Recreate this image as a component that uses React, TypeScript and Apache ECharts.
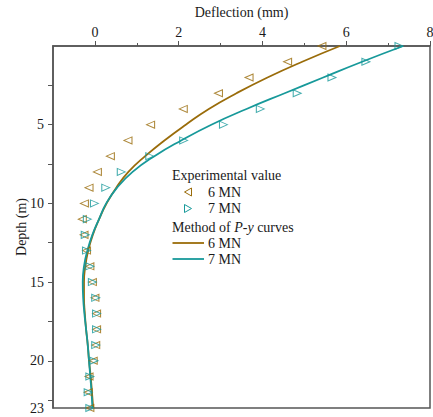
import React, { useEffect, useRef } from "react";
import * as echarts from "echarts";

const depths = [0, 1, 2, 3, 4, 5, 6, 7, 8, 9, 10, 11, 12, 13, 14, 15, 16, 17, 18, 19, 20, 21, 22, 23];
const exp6MN = [5.42, 4.6, 3.68, 2.95, 2.11, 1.33, 0.79, 0.37, 0.06, -0.14, -0.25, -0.3, -0.26, -0.2, -0.12, -0.06, 0, 0.04, 0.04, 0.02, -0.04, -0.14, -0.16, -0.12];
const exp7MN = [7.26, 6.47, 5.66, 4.83, 3.95, 3.07, 2.12, 1.31, 0.63, 0.26, -0.01, -0.18, -0.23, -0.2, -0.12, -0.06, 0.02, 0.04, 0.04, 0.02, -0.02, -0.12, -0.16, -0.12];
const curve6MN = [5.85, 4.95, 4.12, 3.38, 2.72, 2.17, 1.66, 1.2, 0.8, 0.51, 0.28, 0.1, -0.05, -0.16, -0.23, -0.26, -0.26, -0.24, -0.21, -0.17, -0.14, -0.1, -0.07, -0.04];
const curve7MN = [7.36, 6.38, 5.45, 4.53, 3.62, 2.78, 2.06, 1.42, 0.9, 0.53, 0.27, 0.1, -0.06, -0.18, -0.26, -0.29, -0.28, -0.25, -0.21, -0.17, -0.14, -0.11, -0.08, -0.06];

const xLabelValues = [0, 2, 4, 6, 8];
const xMinorTicks = [1, 3, 5, 7];
const yLabelValues = [5, 10, 15, 20, 23];
const yTickValues = [2.5, 5, 7.5, 10, 12.5, 15, 17.5, 20, 22.5];

const BROWN = "#9a6c0a";
const TEAL = "#17999a";
const AXIS = "#555";
const FONT = "Liberation Serif";
const INK = "#1a1a1a";

const pairs = (xs: number[]) => xs.map((v, i) => [v, depths[i]]);

export default function App() {
  const ref = useRef<HTMLDivElement>(null);
  useEffect(() => {
    if (!ref.current) return;
    const chart = echarts.init(ref.current, null, { renderer: "svg" });
    const textStyle = { fontFamily: FONT, fontSize: 14, color: INK };
    const legendText = (text: string, x: number, y: number) => ({
      type: "text",
      x,
      y,
      style: { text, fontFamily: FONT, fontSize: 14, fill: INK, verticalAlign: "middle" },
    });
    chart.setOption({
      animation: false,
      backgroundColor: "#fff",
      textStyle: { fontFamily: FONT },
      grid: {
        left: 53,
        top: 46,
        right: 3,
        bottom: 9,
        containLabel: false,
        outerBoundsMode: "none",
        show: true,
        borderColor: AXIS,
        borderWidth: 1.5,
      },
      xAxis: [
        {
          type: "value",
          position: "top",
          min: -1,
          max: 8,
          name: "Deflection (mm)",
          nameLocation: "middle",
          nameGap: 27,
          nameMoveOverlap: false,
          nameTextStyle: textStyle,
          axisLine: { show: true, onZero: false, lineStyle: { color: AXIS, width: 1.5 } },
          axisTick: { show: true, length: 5, customValues: xLabelValues, lineStyle: { color: AXIS } },
          axisLabel: { customValues: xLabelValues, margin: 7, ...textStyle },
          splitLine: { show: false },
        },
        {
          type: "value",
          position: "top",
          min: -1,
          max: 8,
          axisLine: { show: false, onZero: false },
          axisTick: { show: true, length: 3, customValues: xMinorTicks, lineStyle: { color: AXIS } },
          axisLabel: { show: false },
          splitLine: { show: false },
        },
      ],
      yAxis: {
        type: "value",
        inverse: true,
        min: 0,
        max: 23,
        name: "Depth (m)",
        nameLocation: "middle",
        nameGap: 25,
        nameMoveOverlap: false,
        nameTextStyle: textStyle,
        axisLine: { show: true, onZero: false, lineStyle: { color: AXIS, width: 1.5 } },
        axisTick: { show: true, length: 5, customValues: yTickValues, lineStyle: { color: AXIS } },
        axisLabel: { customValues: yLabelValues, margin: 9, ...textStyle },
        splitLine: { show: false },
      },
      series: [
        {
          name: "Exp 6 MN",
          type: "scatter",
          xAxisIndex: 0,
          data: pairs(exp6MN),
          symbol: "triangle",
          symbolRotate: 90,
          symbolSize: [7, 8],
          itemStyle: { color: "rgba(0,0,0,0)", borderColor: BROWN, borderWidth: 1 },
          z: 3,
        },
        {
          name: "Exp 7 MN",
          type: "scatter",
          xAxisIndex: 0,
          data: pairs(exp7MN),
          symbol: "triangle",
          symbolRotate: -90,
          symbolSize: [7, 8],
          itemStyle: { color: "rgba(0,0,0,0)", borderColor: TEAL, borderWidth: 1 },
          z: 3,
        },
        {
          name: "P-y 6 MN",
          type: "line",
          xAxisIndex: 0,
          data: pairs(curve6MN),
          smooth: 0.5,
          showSymbol: false,
          lineStyle: { color: BROWN, width: 1.8 },
          z: 2,
        },
        {
          name: "P-y 7 MN",
          type: "line",
          xAxisIndex: 0,
          data: pairs(curve7MN),
          smooth: 0.5,
          showSymbol: false,
          lineStyle: { color: TEAL, width: 1.8 },
          z: 2,
        },
      ],
      graphic: [
        legendText("Experimental value", 172, 175),
        {
          type: "polygon",
          shape: { points: [[184.5, 192], [191.5, 188], [191.5, 196]] },
          style: { fill: "none", stroke: BROWN, lineWidth: 1 },
        },
        legendText("6 MN", 208, 192),
        {
          type: "polygon",
          shape: { points: [[191.5, 208.5], [184.5, 204.5], [184.5, 212.5]] },
          style: { fill: "none", stroke: TEAL, lineWidth: 1 },
        },
        legendText("7 MN", 208, 208.5),
        {
          type: "text",
          x: 172,
          y: 227,
          style: {
            text: "{n|Method of }{i|P-y}{n| curves}",
            verticalAlign: "middle",
            rich: {
              n: { fontFamily: FONT, fontSize: 14, fill: INK, color: INK },
              i: { fontFamily: FONT, fontSize: 14, fontStyle: "italic", fill: INK, color: INK },
            },
          },
        },
        {
          type: "line",
          shape: { x1: 172.5, y1: 243, x2: 204, y2: 243 },
          style: { stroke: BROWN, lineWidth: 1.8 },
        },
        legendText("6 MN", 208, 243),
        {
          type: "line",
          shape: { x1: 172.5, y1: 259, x2: 204, y2: 259 },
          style: { stroke: TEAL, lineWidth: 1.8 },
        },
        legendText("7 MN", 208, 259),
      ],
    });
    return () => chart.dispose();
  }, []);
  return (
    <div
      ref={ref}
      style={{ position: "fixed", left: 0, top: 0, width: 433, height: 417 }}
    />
  );
}
